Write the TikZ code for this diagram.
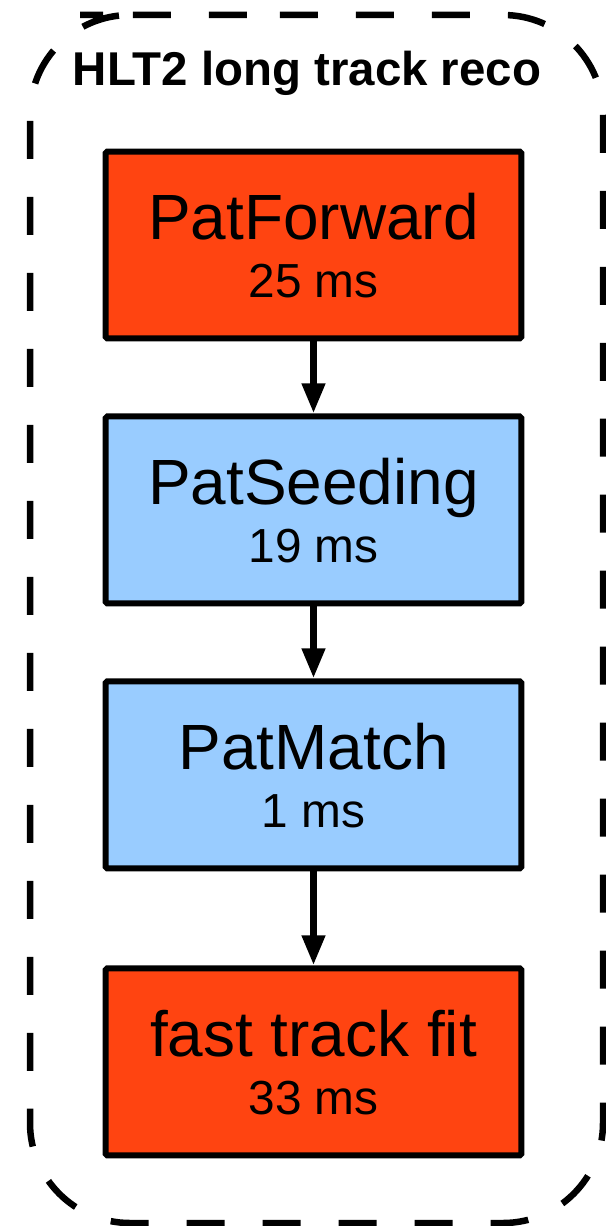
\documentclass[tikz,border=0pt]{standalone}
\usepackage{fontspec}
\setmainfont{Liberation Sans}
\usetikzlibrary{arrows.meta, positioning}

\definecolor{slowred}{RGB}{255,68,17}
\definecolor{fastblue}{RGB}{153,204,255}

\begin{document}
\begin{tikzpicture} [x=0.02cm, y=-0.02cm,
            node distance = 5.3cm,
            on grid,
            stage/.style={draw=black, line width=0.12cm, rounded corners=1pt,
                minimum width=8.32cm, minimum height=3.74cm, inner sep=0pt},
            stagename/.style={anchor=base, inner sep=0pt,
                font=\fontsize{36.4}{40}\selectfont},
            stagetime/.style={anchor=base, inner sep=0pt,
                font=\fontsize{27.2}{30}\selectfont},
            flow/.style={-{Triangle[length=0.6cm, width=0.44cm]}, line width=0.14cm},
            groupframe/.style={line width=0.13cm, dash pattern=on 0.76cm off 0.76cm,
                rounded corners=2cm}]

        \useasboundingbox (0,0) rectangle (605,1226);

        % Dashed frame round the whole chain
        \draw [groupframe] (180,15) -- (603,15) -- (603,1223)
            -- (30,1223) -- (30,15) -- cycle;

        % Title
        \node (title) [anchor=base, inner sep=0pt,
            font=\bfseries\fontsize{27}{30}\selectfont] at (307,86) {HLT2 long track reco};

        % Stage PatForward
        \node (fwd) [stage, fill=slowred] at (313.5,245) {};

        % Stage PatSeeding
        \node (seed) [stage, fill=fastblue,
            below = of fwd] {};

        % Stage PatMatch
        \node (match) [stage, fill=fastblue,
            below = of seed] {};

        % Stage fast track fit
        \node (fit) [stage, fill=slowred,
            below = 5.74cm of match] {};

        % Labels
        \node (fwdname) [stagename] at ([yshift=0.1cm]fwd.center) {PatForward};
        \node (fwdtime) [stagetime] at ([yshift=-1.05cm]fwd.center) {25 ms};
        \node (seedname) [stagename] at ([yshift=0.1cm]seed.center) {PatSeeding};
        \node (seedtime) [stagetime] at ([yshift=-1.05cm]seed.center) {19 ms};
        \node (matchname) [stagename] at ([yshift=0.1cm]match.center) {PatMatch};
        \node (matchtime) [stagetime] at ([yshift=-1.05cm]match.center) {1 ms};
        \node (fitname) [stagename] at ([yshift=0.1cm]fit.center) {fast track fit};
        \node (fittime) [stagetime] at ([yshift=-1.05cm]fit.center) {33 ms};

        % Arrows
        \draw [flow] (fwd) -- (seed);
        \draw [flow] (seed) -- (match);
        \draw [flow] (match) -- (fit);
\end{tikzpicture}
\end{document}
